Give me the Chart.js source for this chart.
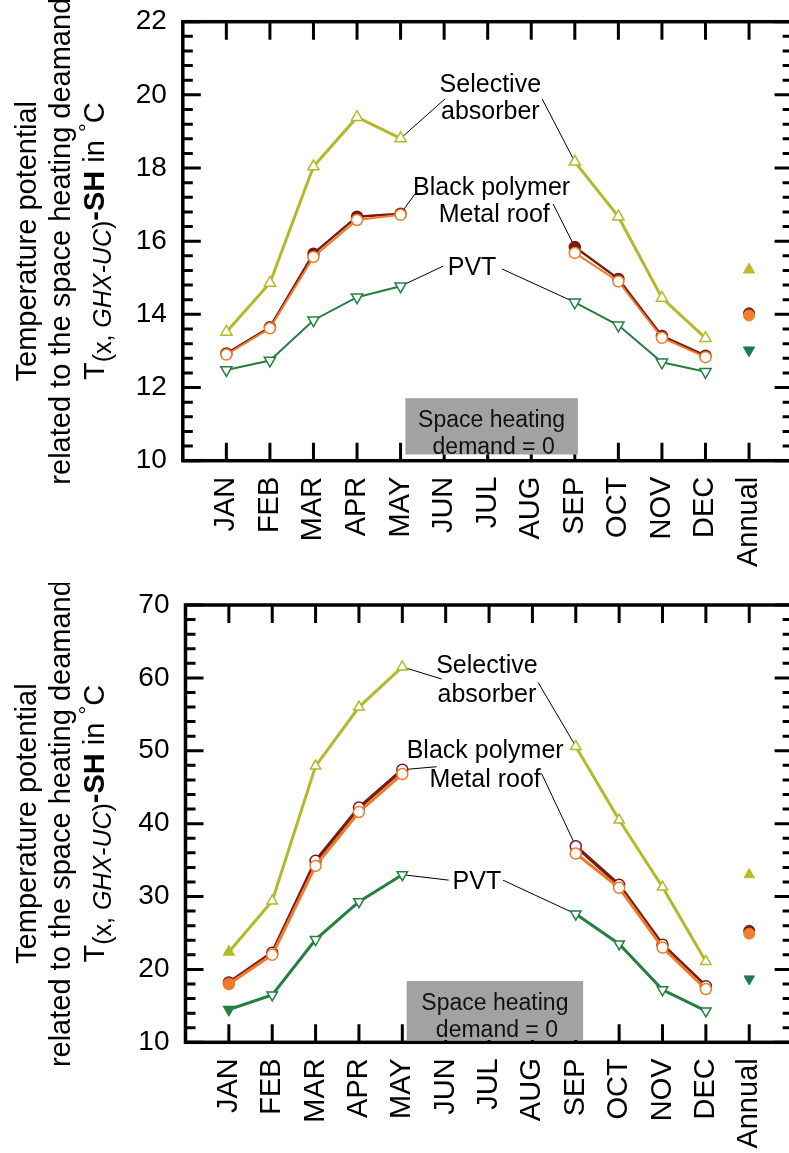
<!DOCTYPE html>
<html><head><meta charset="utf-8">
<script src="https://cdn.jsdelivr.net/npm/chart.js@4.4.1/dist/chart.umd.min.js"></script>
<style>
html,body{margin:0;padding:0;background:#fff;overflow:hidden;width:789px;height:1153px;}
.wrap{position:absolute;left:0;width:830px;}
#w1{top:0;height:583px;} #w2{top:583px;height:570px;}
canvas{display:block;}
</style></head><body>
<div class="wrap" id="w1"><canvas id="c1" width="830" height="583"></canvas></div>
<div class="wrap" id="w2"><canvas id="c2" width="830" height="570"></canvas></div>
<script>
// ---------- DATA ----------
const categories = ['JAN','FEB','MAR','APR','MAY','JUN','JUL','AUG','SEP','OCT','NOV','DEC','Annual'];
const seriesNames = ['Selective absorber','Black polymer','Metal roof','PVT'];

// Top panel (°C)
const topSelective    = [13.52, 14.86, 18.04, 19.39, 18.81, null, null, null, 18.17, 16.67, 14.45, 13.35];
const topBlackPolymer = [12.93, 13.65, 15.66, 16.67, 16.75, null, null, null, 15.84, 14.97, 13.41, 12.87];
const topMetalRoof    = [12.90, 13.62, 15.57, 16.58, 16.72, null, null, null, 15.68, 14.90, 13.36, 12.83];
const topPVT          = [12.48, 12.74, 13.84, 14.47, 14.77, null, null, null, 14.33, 13.70, 12.69, 12.43];
const topAnnual       = [15.22, 14.03, 13.97, 13.02];   // selective, black polymer, metal roof, PVT

// Bottom panel (°C)
const botSelective    = [22.4, 29.4, 47.9, 56.0, 61.5, null, null, null, 50.6, 40.5, 31.3, 21.1];
const botBlackPolymer = [18.2, 22.3, 34.9, 42.2, 47.4, null, null, null, 36.9, 31.6, 23.4, 17.7];
const botMetalRoof    = [18.0, 22.0, 34.2, 41.6, 46.8, null, null, null, 35.9, 31.2, 23.0, 17.3];
const botPVT          = [14.5, 16.5, 24.1, 29.3, 33.0, null, null, null, 27.6, 23.5, 17.2, 14.3];
const botAnnual       = [33.0, 25.3, 24.9, 18.7];

const topYTicks = [10, 12, 14, 16, 18, 20, 22];
const botYTicks = [10, 20, 30, 40, 50, 60, 70];

// ---------- STYLE ----------
const FONT = '"Liberation Sans", Arial, Helvetica, sans-serif';
const COL = { sel:'#B5B82A', blk:'#7A1B12', met:'#EE7A2C', pvt:'#23803F' };
const ANNCOL = { sel:'#B9BC2A', blk:'#7A1B12', met:'#F07F32', pvt:'#1F7A4C' };

const panels = [
  { canvas:'c1', series:{sel:topSelective, blk:topBlackPolymer, met:topMetalRoof, pvt:topPVT}, annual:topAnnual,
    yTicks:topYTicks, yMinor:0.4, yAxisWidth:182.8, xAxisHeight:122.3, padTop:21.7,
    widths:{sel:3, blk:2.4, met:2, pvt:2}, triR:6.5, cirR:5.5, firstFilled:false, blkFilled:true,
    box:{x0:4.11, x1:8.07, y0:10.17, y1:11.71},
    labels:[['Selective',6.06,20.08],['absorber',6.06,19.33],['Black polymer',6.09,17.26],['Metal roof',6.15,16.52],['PVT',5.64,15.08]],
    leaders:[[5.02,19.89,'sel',4],[7.25,19.89,'sel',8],[4.33,17.29,'blk',4],[7.50,17.02,'blk',8],[4.98,15.32,'pvt',4],[6.33,15.24,'pvt',8]] },
  { canvas:'c2', series:{sel:botSelective, blk:botBlackPolymer, met:botMetalRoof, pvt:botPVT}, annual:botAnnual,
    yTicks:botYTicks, yMinor:2, yAxisWidth:185.5, xAxisHeight:110.7, padTop:22,
    widths:{sel:3, blk:3.4, met:3, pvt:3}, triR:6, cirR:5.5, firstFilled:true, blkFilled:false,
    box:{x0:4.10, x1:8.17, y0:10.32, y1:18.41},
    labels:[['Selective',5.95,60.66],['absorber',5.95,56.69],['Black polymer',5.91,48.96],['Metal roof',5.91,45.06],['PVT',5.72,31.03]],
    leaders:[[4.91,59.84,'sel',4],[7.13,59.39,'sel',8],[4.79,47.81,'blk',4],[7.21,46.9,'blk',8],[5.07,32.25,'pvt',4],[6.32,32.25,'pvt',8]] }
];

const toPts = arr => arr.map((v,i)=>({x:i, y:v}));

function drawTitle(ctx, cy) {
  ctx.save();
  ctx.fillStyle = '#000';
  ctx.textBaseline = 'alphabetic';
  const line = (txt, bx) => {
    ctx.save(); ctx.translate(bx, cy); ctx.rotate(-Math.PI/2);
    ctx.font = '29px ' + FONT; ctx.textAlign = 'center';
    ctx.fillText(txt, 0, 0); ctx.restore();
  };
  line('Temperature potential', 36);
  line('related to the space heating deamand', 69.5);
  const segs = [
    ['T', '29px', 0], ['(x, ', '25px', 7], ['GHX-UC', 'italic 25px', 7], [')', '25px', 7],
    ['-SH', 'bold 29px', 0], [' in ', '29px', 0], ['°', '22px', -9], ['C', '29px', 0]
  ];
  let total = 0;
  segs.forEach(s => { ctx.font = s[1] + ' ' + FONT; s.w = ctx.measureText(s[0]).width; total += s.w; });
  ctx.save(); ctx.translate(104, cy); ctx.rotate(-Math.PI/2);
  ctx.textAlign = 'left';
  let xx = -total/2;
  segs.forEach(s => { ctx.font = s[1] + ' ' + FONT; ctx.fillText(s[0], xx, s[2]); xx += s.w; });
  ctx.restore();
  ctx.restore();
}

const decoPlugin = {
  id: 'deco',
  beforeDatasetsDraw(chart, args, o) {
    const {ctx, chartArea:a, scales:{x, y}} = chart;
    const p = o.panel;
    ctx.save();
    ctx.strokeStyle = '#000';
    ctx.lineCap = 'butt';
    // ticks
    ctx.lineWidth = 3;
    ctx.beginPath();
    for (let i = 0; i < categories.length; i++) {
      const px = x.getPixelForValue(i);
      ctx.moveTo(px, a.bottom); ctx.lineTo(px, a.bottom - 18);
      ctx.moveTo(px, a.top); ctx.lineTo(px, a.top + 18);
    }
    const yMin = p.yTicks[0], yMax = p.yTicks[p.yTicks.length-1];
    const n = Math.round((yMax - yMin) / p.yMinor);
    for (let k = 0; k <= n; k++) {
      const v = yMin + k * p.yMinor;
      const major = p.yTicks.some(t => Math.abs(t - v) < 1e-6);
      const len = major ? 18 : 10;
      const py = y.getPixelForValue(v);
      ctx.moveTo(a.left, py); ctx.lineTo(a.left + len, py);
      ctx.moveTo(a.right, py); ctx.lineTo(a.right - len, py);
    }
    ctx.stroke();
    // frame
    ctx.lineWidth = 3.5;
    ctx.strokeRect(a.left, a.top, a.right - a.left, a.bottom - a.top);
    // grey box
    const b = p.box;
    const bx1 = x.getPixelForValue(b.x0), bx2 = x.getPixelForValue(b.x1);
    const by1 = y.getPixelForValue(b.y1), by2 = y.getPixelForValue(b.y0);
    ctx.fillStyle = '#A2A2A2';
    ctx.fillRect(bx1, by1, bx2 - bx1, by2 - by1);
    ctx.fillStyle = '#111';
    ctx.font = '23px ' + FONT;
    ctx.textAlign = 'center'; ctx.textBaseline = 'alphabetic';
    const cx = (bx1 + bx2) / 2;
    ctx.fillText('Space heating', cx, by1 + 29);
    ctx.fillText('demand = 0', cx + 2, by1 + 56);
    // leaders
    ctx.lineWidth = 1; ctx.strokeStyle = '#000';
    ctx.beginPath();
    p.leaders.forEach(l => {
      ctx.moveTo(x.getPixelForValue(l[0]), y.getPixelForValue(l[1]));
      ctx.lineTo(x.getPixelForValue(l[3]), y.getPixelForValue(p.series[l[2]][l[3]]));
    });
    ctx.stroke();
    // labels
    ctx.fillStyle = '#000';
    ctx.font = '25px ' + FONT;
    p.labels.forEach(l => ctx.fillText(l[0], x.getPixelForValue(l[1]), y.getPixelForValue(l[2])));
    // axis title
    drawTitle(ctx, (a.top + a.bottom) / 2);
    ctx.restore();
  }
};

function makeChart(p) {
  const s = p.series;
  const fill = (col, filledAll) => (c) => (filledAll || (p.firstFilled && c.dataIndex === 0)) ? col : '#fff';
  const line = (key, style, rot, r, filledAll) => ({
    data: toPts(s[key]), borderColor: COL[key], borderWidth: p.widths[key],
    pointStyle: style, pointRotation: rot, pointRadius: r, pointBorderWidth: 1.5,
    pointBorderColor: COL[key], pointBackgroundColor: fill(COL[key], filledAll),
    showLine: true, spanGaps: false, tension: 0, fill: false
  });
  const ann = (idx, key, style, rot, r) => ({
    data: [{x: 12, y: p.annual[idx]}], showLine: false, pointStyle: style, pointRotation: rot,
    pointRadius: r, pointBorderWidth: 1, pointBorderColor: ANNCOL[key], pointBackgroundColor: ANNCOL[key]
  });
  const datasets = [
    ann(2, 'met', 'circle', 0, p.cirR),
    ann(1, 'blk', 'circle', 0, p.cirR),
    ann(0, 'sel', 'triangle', 0, p.triR),
    ann(3, 'pvt', 'triangle', 180, p.triR),
    line('met', 'circle', 0, p.cirR, false),
    line('blk', 'circle', 0, p.cirR, p.blkFilled),
    line('sel', 'triangle', 0, p.triR, false),
    line('pvt', 'triangle', 180, p.triR, false)
  ];
  new Chart(document.getElementById(p.canvas), {
    type: 'scatter',
    data: { datasets },
    plugins: [decoPlugin],
    options: {
      responsive: false, animation: false, events: [],
      layout: { padding: { top: p.padTop, right: 830 - 792.6, left: 0, bottom: 0 } },
      plugins: { legend: {display:false}, tooltip: {enabled:false}, deco: { panel: p } },
      scales: {
        x: {
          type: 'linear', min: -1, max: 13,
          grid: { display: false, drawTicks: false }, border: { display: false },
          afterBuildTicks: (sc) => { sc.ticks = categories.map((c, i) => ({ value: i })); },
          afterFit: (sc) => { sc.height = p.xAxisHeight; sc.paddingLeft = 0; sc.paddingRight = 0; },
          ticks: { autoSkip: false, minRotation: 90, maxRotation: 90, padding: 16, color: '#000',
                   font: { family: FONT, size: 29 }, callback: (v) => categories[v] }
        },
        y: {
          type: 'linear', min: p.yTicks[0], max: p.yTicks[p.yTicks.length-1],
          grid: { display: false, drawTicks: false }, border: { display: false },
          afterBuildTicks: (sc) => { sc.ticks = p.yTicks.map(v => ({ value: v })); },
          afterFit: (sc) => { sc.width = p.yAxisWidth; sc.paddingTop = 0; sc.paddingBottom = 0; },
          ticks: { autoSkip: false, padding: 16, color: '#000', font: { family: FONT, size: 28 } }
        }
      }
    }
  });
}
panels.forEach(makeChart);
</script>
</body></html>
